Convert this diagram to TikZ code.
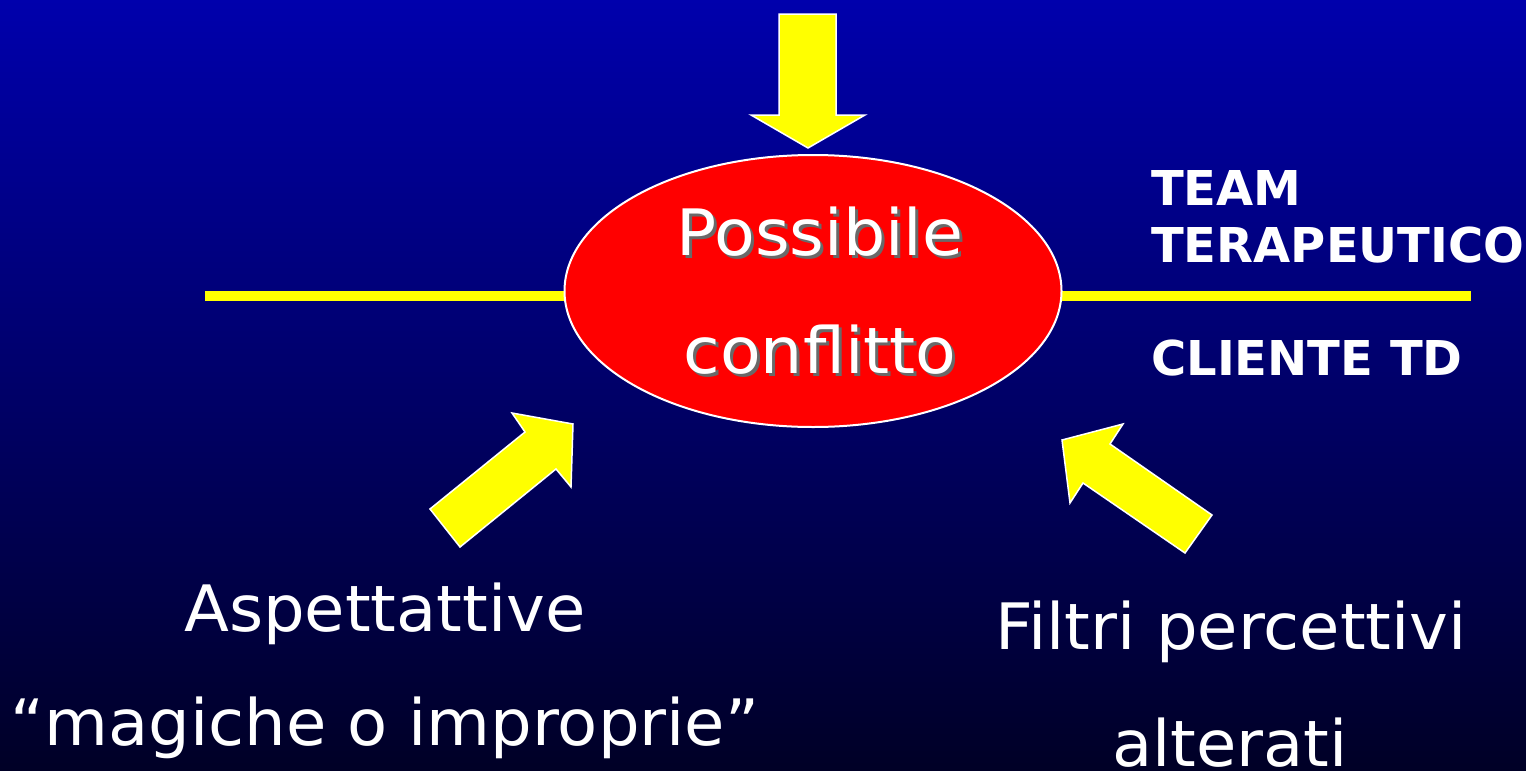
\documentclass[tikz,border=0pt]{standalone}
\usepackage{fontspec}
\setmainfont{DejaVu Sans}
\newfontfamily\verdwide[FakeStretch=1.025]{DejaVu Sans}
\newfontfamily\verdwider[FakeStretch=1.04]{DejaVu Sans}
\usetikzlibrary{shapes.geometric}
\definecolor{bgtop}{RGB}{0,0,172}
\definecolor{bgbot}{RGB}{0,0,38}
\definecolor{arrowyellow}{RGB}{255,255,0}
\definecolor{confred}{RGB}{255,0,0}
\definecolor{shadowgray}{RGB}{105,105,105}
\tikzset{
  blockarrow/.style={fill=arrowyellow, draw=white, line width=1.5pt, line join=miter},
  bigtext/.style={text=white, inner sep=0pt, anchor=base, font=\verdwide\fontsize{64}{77}\selectfont},
  ovaltext/.style={text=white, inner sep=0pt, anchor=base, font=\verdwider\fontsize{64}{77}\selectfont},
  shadowtext/.style={ovaltext, text=shadowgray},
  boldlabel/.style={text=white, inner sep=0pt, anchor=base west, font=\fontsize{48}{58}\selectfont\bfseries},
  axisline/.style={draw=arrowyellow, line width=10pt},
  conflict/.style={ellipse, fill=confred, draw=white, line width=2pt, minimum width=497pt, minimum height=272pt, inner sep=0pt}
}
\begin{document}
\begin{tikzpicture}[x=1pt,y=-1pt]
\useasboundingbox (0,0) rectangle (1526,771);
\shade[top color=bgtop, bottom color=bgbot] (0,0) rectangle (1526,771);
% horizontal line
\coordinate (lineL) at (205,296);
\coordinate (lineR) at (1471,296);
\draw[axisline] (lineL) -- (lineR);
% ellipse
\node[conflict] (conf) at (813,291) {};
% ellipse text with shadow
\node[shadowtext] (possS) at (823,258) {Possibile};
\node[ovaltext] (poss) at (820,255) {Possibile};
\node[shadowtext] (confS) at (823,376) {conflitto};
\node[ovaltext] (conft) at (820,373) {conflitto};
% top arrow
\draw[blockarrow] (779,14) -- (836,14) -- (836,115) -- (865,115) -- (808,148) -- (751,115) -- (779,115) -- cycle;
% left arrow
\draw[blockarrow] (512,413) -- (573,424) -- (571,487) -- (556,469) -- (460,547) -- (430,509) -- (525,432) -- cycle;
% right arrow
\draw[blockarrow] (1062,440) -- (1123,424) -- (1110,444) -- (1212,515) -- (1185,553) -- (1083,483) -- (1070,503) -- cycle;
% right labels
\node[boldlabel] (team) at (1151,205) {TEAM};
\node[boldlabel] (terap) at (1151,262) {TERAPEUTICO};
\node[boldlabel] (cliente) at (1151,375) {CLIENTE TD};
% bottom labels
\node[bigtext] (asp) at (385,631) {Aspettattive};
\node[bigtext] (magic) at (385,745) {“magiche o improprie”};
\node[bigtext] (filtri) at (1231,649) {Filtri percettivi};
\node[bigtext] (alter) at (1230,766) {alterati};
\end{tikzpicture}
\end{document}
